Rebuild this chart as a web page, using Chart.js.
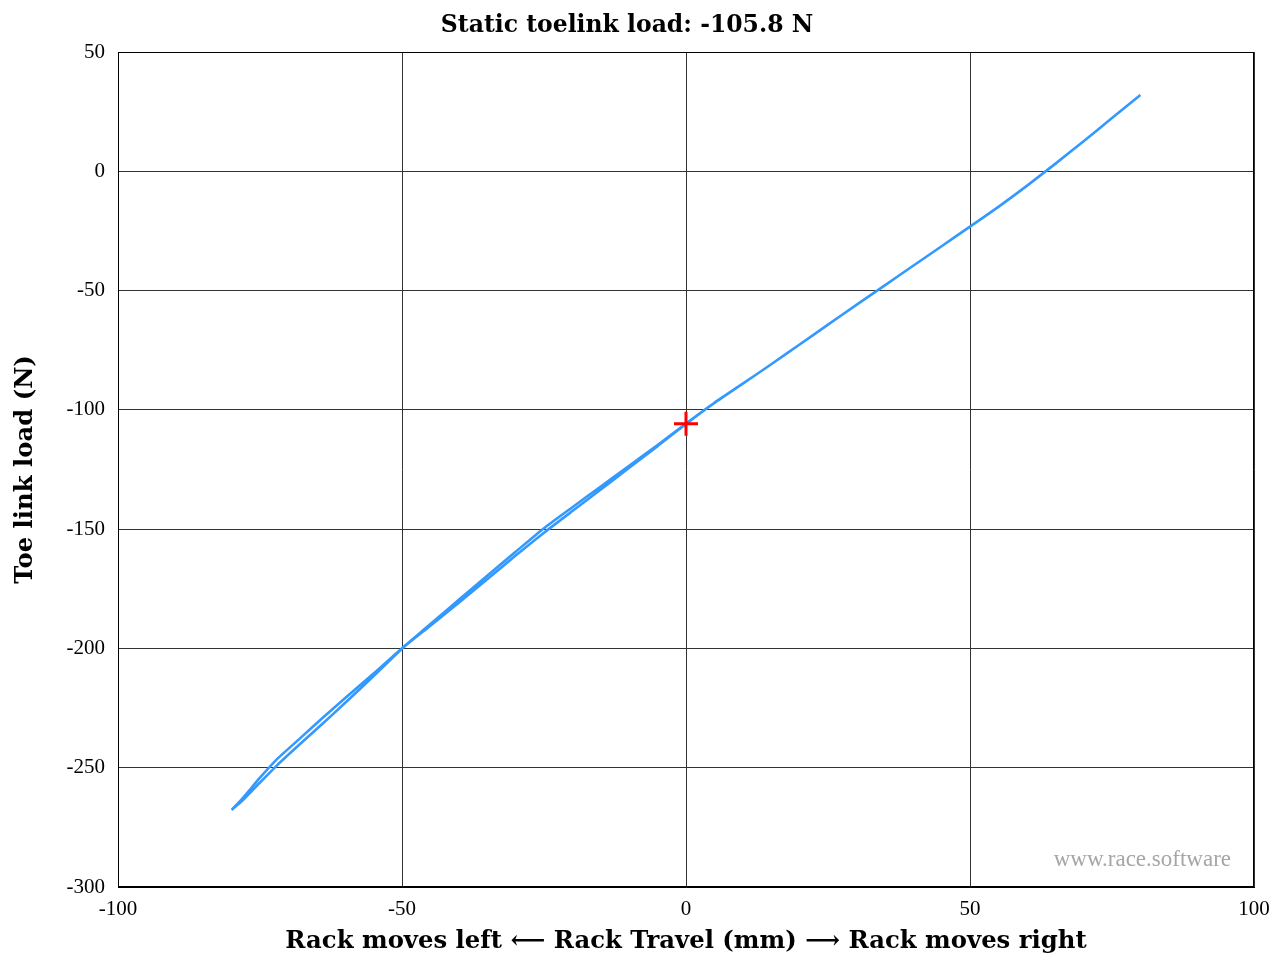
<!DOCTYPE html>
<html>
<head>
<meta charset="utf-8">
<title>Static toelink load</title>
<script src="https://cdn.jsdelivr.net/npm/chart.js@4/dist/chart.umd.min.js"></script>
<style>
  html, body { margin: 0; padding: 0; background: #fff; }
  #wrap { width: 1273px; height: 958px; }
</style>
</head>
<body>
<div id="wrap"><canvas id="c" width="1273" height="958"></canvas></div>
<script>
// Rack travel (mm) and toe link load (N), outgoing stroke (left to right)
const rackOut = [-80, -78, -75, -72, -68, -64, -60, -55, -50, -45, -40, -35, -30, -25, -20, -15, -10, -5, 0, 5, 10, 15, 20, 25, 30, 35, 40, 45, 50, 55, 60, 65, 70, 75, 80];
const loadOut = [-267.7, -263.6, -256.2, -249.0, -240.2, -231.6, -222.8, -211.6, -200.1, -190.5, -180.9, -171.0, -161.1, -151.5, -142.4, -133.4, -124.3, -115.2, -105.9, -97.1, -89.0, -80.9, -72.6, -64.3, -56.0, -47.8, -39.6, -31.4, -23.2, -14.9, -6.1, 3.1, 12.6, 22.3, 32.0];
// Return stroke (right to left)
const rackBack = [80, 75, 70, 65, 60, 55, 50, 45, 40, 35, 30, 25, 20, 15, 10, 5, 0, -5, -10, -15, -20, -25, -30, -35, -40, -45, -50, -55, -60, -64, -68, -72, -75, -78, -80];
const loadBack = [32.0, 22.3, 12.6, 3.1, -6.1, -14.9, -23.2, -31.4, -39.6, -47.8, -56.0, -64.3, -72.6, -80.9, -89.0, -97.0, -105.7, -114.7, -123.4, -132.1, -140.8, -149.6, -159.5, -169.5, -179.6, -189.8, -199.9, -210.5, -220.8, -229.2, -237.8, -246.4, -254.2, -262.6, -267.7];
// Static operating point
const staticRack = [0];
const staticLoad = [-105.8];

const xTicks = [-100, -50, 0, 50, 100];
const yTicks = [-300, -250, -200, -150, -100, -50, 0, 50];

const loopPoints = rackOut.map((x, i) => ({ x: x, y: loadOut[i] }))
  .concat(rackBack.slice(1).map((x, i) => ({ x: x, y: loadBack[i + 1] })));
const staticPoints = staticRack.map((x, i) => ({ x: x, y: staticLoad[i] }));

const SERIF = "'Liberation Serif', 'DejaVu Serif', serif";
const SERIF_BOLD = "'DejaVu Serif', 'Liberation Serif', serif";

const watermark = {
  id: 'watermark',
  afterDatasetsDraw(chart) {
    const { ctx, chartArea } = chart;
    ctx.save();
    ctx.font = "23px " + SERIF;
    ctx.fillStyle = '#a6a6a6';
    ctx.textAlign = 'right';
    ctx.textBaseline = 'alphabetic';
    ctx.fillText('www.race.software', chartArea.right - 23, chartArea.bottom - 21);
    ctx.restore();
  }
};

const frame = {
  id: 'frame',
  afterDatasetsDraw(chart) {
    const { ctx, chartArea: a } = chart;
    ctx.save();
    ctx.strokeStyle = '#000';
    ctx.lineWidth = 1;
    ctx.strokeRect(Math.round(a.left) + 0.5, Math.round(a.top) + 0.5,
      Math.round(a.right - a.left) - 1, Math.round(a.bottom - a.top) - 1);
    ctx.restore();
  }
};

new Chart(document.getElementById('c'), {
  type: 'scatter',
  data: {
    datasets: [
      {
        label: 'Toe link load',
        data: loopPoints,
        showLine: true,
        borderColor: '#3399ff',
        backgroundColor: '#3399ff',
        borderWidth: 2.6,
        pointRadius: 0,
        tension: 0.2,
        order: 2
      },
      {
        label: 'Static load',
        data: staticPoints,
        showLine: false,
        pointStyle: 'cross',
        pointRadius: 12,
        borderColor: '#ff0000',
        backgroundColor: '#ff0000',
        pointBorderWidth: 3,
        borderWidth: 3,
        order: 1
      }
    ]
  },
  options: {
    responsive: false,
    animation: false,
    devicePixelRatio: 1,
    layout: { padding: { top: 0, right: 19, left: 0, bottom: 0 } },
    plugins: {
      legend: { display: false },
      tooltip: { enabled: false },
      title: {
        display: true,
        text: 'Static toelink load: -105.8 N',
        color: '#000',
        font: { family: SERIF_BOLD, size: 23.5, weight: 'bold', lineHeight: 1.2 },
        padding: { top: 12, bottom: 11.8 }
      }
    },
    scales: {
      x: {
        type: 'linear',
        min: -100,
        max: 100,
        afterBuildTicks(scale) { scale.ticks = xTicks.map(v => ({ value: v })); },
        afterFit(scale) { scale.height = 71; scale.paddingRight = 0; scale.paddingLeft = 0; },
        ticks: {
          color: '#000',
          font: { family: SERIF, size: 21 },
          padding: 10,
          maxRotation: 0,
          callback: v => String(v)
        },
        grid: { color: '#333', lineWidth: 1, drawTicks: false },
        border: { display: true, color: '#000' },
        title: {
          display: true,
          text: 'Rack moves left \u27F5 Rack Travel (mm) \u27F6 Rack moves right',
          color: '#000',
          font: { family: SERIF_BOLD, size: 24.3, weight: 'bold', lineHeight: 1.2 },
          padding: { top: 0, bottom: 2 }
        }
      },
      y: {
        type: 'linear',
        min: -300,
        max: 50,
        afterBuildTicks(scale) { scale.ticks = yTicks.map(v => ({ value: v })); },
        afterFit(scale) { scale.width = 118; scale.paddingTop = 0; scale.paddingBottom = 0; },
        ticks: {
          color: '#000',
          font: { family: SERIF, size: 21 },
          padding: 13,
          callback: v => String(v)
        },
        grid: { color: '#333', lineWidth: 1, drawTicks: false },
        border: { display: true, color: '#000' },
        title: {
          display: true,
          text: 'Toe link load (N)',
          color: '#000',
          font: { family: SERIF_BOLD, size: 24.3, weight: 'bold', lineHeight: 1.2 },
          padding: { top: 11, bottom: 0 }
        }
      }
    }
  },
  plugins: [watermark, frame]
});
</script>
</body>
</html>
